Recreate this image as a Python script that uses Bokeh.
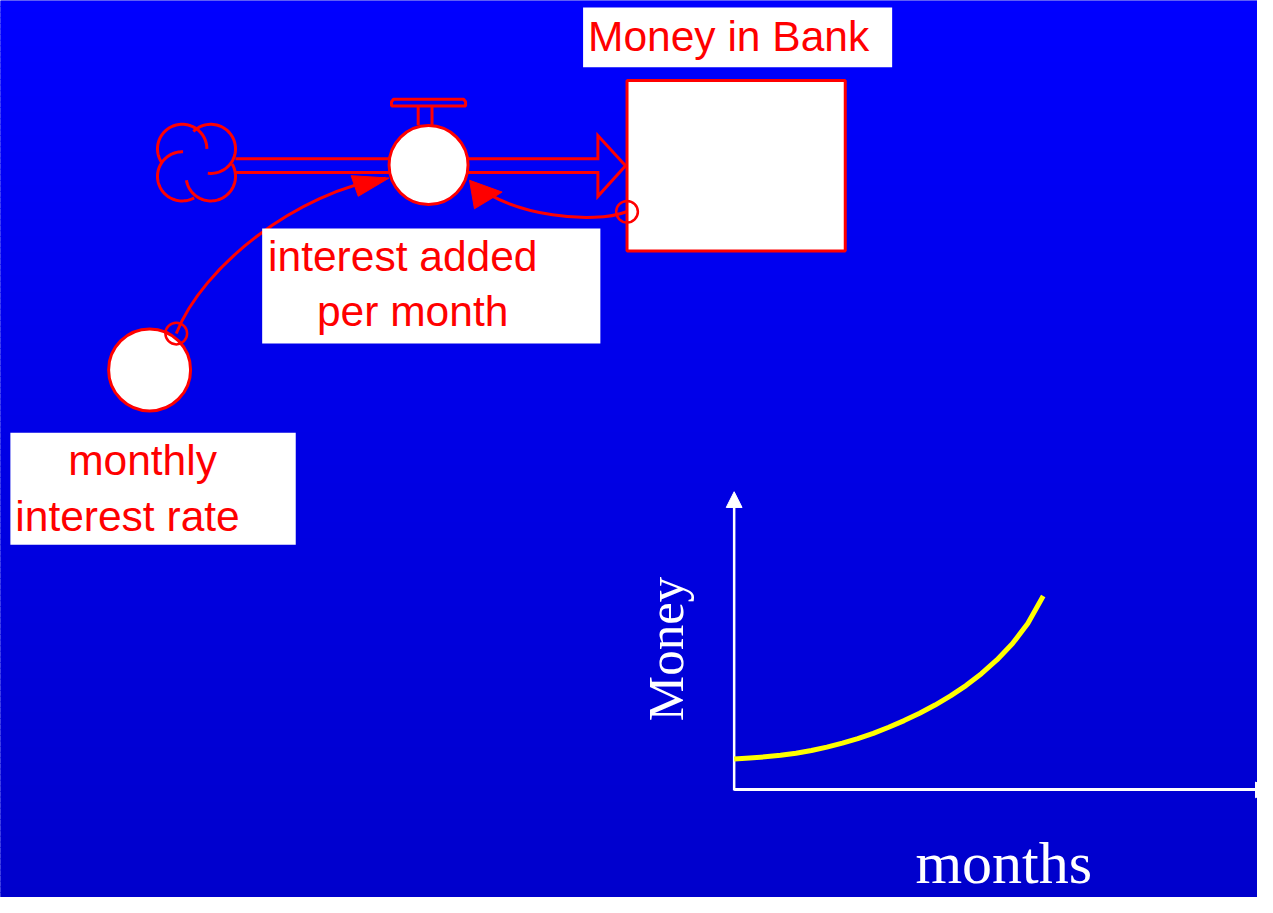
import numpy as np
from bokeh.plotting import figure
from bokeh.models import Range1d
from bokeh.core.properties import value
from bokeh.embed import file_html
from bokeh.resources import INLINE

# ---------------- data ----------------
months = list(range(21))
money = [100, 103, 107, 112, 119, 128, 139, 152, 167, 184, 204,
         226, 250, 277, 307, 341, 380, 425, 478, 545, 635]

stock_label = ["Money in Bank"]
flow_label = ["interest added", "per month"]
aux_label = ["monthly", "interest rate"]
x_axis_label = ["months"]
y_axis_label = ["Money"]

# ---------------- layout constants ----------------
W, H = 1273, 913            # reference canvas
FW, FH = 1257, 897          # figure size (fits the window with 8px margin)
SX = FW / W
SY = FH / H
RED = "#FF0000"
SANS = value("Liberation Sans")
SERIF = value("Liberation Serif")
F_SANS = 42.5
F_MONEY = 51
F_MONTHS = 60

def base_y(yb, size, k=0.34):
    # anchor so that the alphabetic baseline lands at yb (canvas px)
    return yb - k * size / SY

GX0, GY0 = 743, 803         # graph origin (canvas px)
MONTH_PX = (1056 - 743) / 20.0
MONEY_PX = 0.31

p = figure(width=FW, height=FH, x_range=Range1d(0, W), y_range=Range1d(H, 0),
           x_axis_type=None, y_axis_type=None, output_backend="svg",
           toolbar_location=None, min_border=0)
p.grid.visible = False
p.outline_line_color = None
p.background_fill_color = "#0000E6"
p.border_fill_color = "#0000E6"

p.extra_x_ranges = {"months": Range1d(-GX0 / MONTH_PX, (W - GX0) / MONTH_PX)}
p.extra_y_ranges = {"money": Range1d(-(H - GY0) / MONEY_PX, GY0 / MONEY_PX)}

# ---------------- background gradient ----------------
n = 160
edges = np.linspace(0, H, n + 1)
mid = (edges[:-1] + edges[1:]) / 2 / H
cols = ["#0000%02X" % int(round(255 - 51 * t)) for t in mid]
p.quad(left=-5, right=W + 5, top=edges[:-1], bottom=edges[1:] + 1.0,
       fill_color=cols, line_color=None)

def arc_pts(cx, cy, r, a0, a1, k=60):
    t = np.radians(np.linspace(a0, a1, k))
    return list(cx + r * np.cos(t)), list(cy - r * np.sin(t))

# ---------------- cloud ----------------
cx_list, cy_list = [], []
for (cx, cy, a0, a1) in [(184, 151, 0, 212), (213, 151, -97, 135),
                         (184, 179, 88, 299), (213, 179, 189, 390)]:
    xs, ys = arc_pts(cx, cy, 25, a0, a1)
    cx_list.append(xs); cy_list.append(ys)
p.multi_line(cx_list, cy_list, line_color=RED, line_width=3)

# ---------------- pipes ----------------
p.multi_line(
    [[238, 395], [238, 395],
     [472, 605, 605, 633, 605, 605, 472]],
    [[161, 161], [175, 175],
     [161, 161, 137.5, 168.3, 199.3, 175, 175]],
    line_color=RED, line_width=3, line_join="miter")

# valve handle
p.multi_line([[423, 423], [437, 437]], [[107, 127], [107, 127]],
             line_color=RED, line_width=3)
p.patch([398, 469, 471, 471, 396, 396], [100.5, 100.5, 103, 107.5, 107.5, 103],
        fill_color=None, line_color=RED, line_width=3)

# valve circle
p.scatter(x=[433.5], y=[167.5], size=80 * SX, marker="circle",
          fill_color="white", line_color=RED, line_width=3)

# ---------------- stock ----------------
p.quad(left=634.5, right=855.5, top=81.5, bottom=255, fill_color="white",
       line_color=RED, line_width=3)

# ---------------- connectors ----------------
p.bezier(x0=[178, 634], y0=[339, 215], x1=[390, 478], y1=[181, 186],
         cx0=[205, 600], cy0=[270, 228], cx1=[300, 520], cy1=[195, 220],
         line_color=RED, line_width=3)
p.patches([[393.5, 355, 362.3], [475, 480, 508]],
          [[180.7, 178.3, 199.3], [183, 212, 195]],
          fill_color=RED, line_color=RED, line_width=1)

# ---------------- auxiliary ----------------
p.scatter(x=[151], y=[376], size=83 * SX, marker="circle",
          fill_color="white", line_color=RED, line_width=3)
p.scatter(x=[178, 634.5], y=[339, 215], size=22 * SX, marker="circle",
          fill_color=None, line_color=RED, line_width=2.5)

# ---------------- label boxes ----------------
p.quad(left=[590, 265, 10], right=[903, 607.5, 299],
       top=[7, 232, 440], bottom=[68, 349, 554],
       fill_color="white", line_color=None)

fs = "%gpx" % F_SANS
p.text(x=[595], y=[base_y(51.7, F_SANS)], text=stock_label, text_font=SANS,
       text_font_size=fs, text_color=RED, text_align="left",
       text_baseline="alphabetic")
p.text(x=[271, 320.5], y=[base_y(275.7, F_SANS), base_y(331, F_SANS)],
       text=flow_label, text_font=SANS,
       text_font_size=fs, text_color=RED, text_align="left",
       text_baseline="alphabetic")
p.text(x=[68.5, 15], y=[base_y(483.3, F_SANS), base_y(540, F_SANS)],
       text=aux_label, text_font=SANS,
       text_font_size=fs, text_color=RED, text_align="left",
       text_baseline="alphabetic")

# ---------------- graph ----------------
p.segment(x0=[GX0, GX0], y0=[GY0 + 1, GY0], x1=[GX0, 1272], y1=[516, GY0],
          line_color="white", line_width=[2.5, 3])
p.patches([[743, 735, 751], [1271, 1271, 1287]],
          [[500, 516, 516], [795.5, 811.5, 803.5]],
          fill_color="white", line_color="white", line_width=1)

p.line(months, money, x_range_name="months", y_range_name="money",
       line_color="#FFFF00", line_width=5, line_join="round")

p.text(x=[691 - 0.32 * F_MONEY / SX], y=[660], text=y_axis_label,
       angle=np.pi / 2, text_font=SERIF, text_font_size="%gpx" % F_MONEY,
       text_color="white", text_align="center", text_baseline="alphabetic")
p.text(x=[1016], y=[base_y(897, F_MONTHS, 0.32)], text=x_axis_label,
       text_font=SERIF, text_font_size="%gpx" % F_MONTHS, text_color="white",
       text_align="center", text_baseline="alphabetic")

open("out.html", "w").write(file_html(p, INLINE))
